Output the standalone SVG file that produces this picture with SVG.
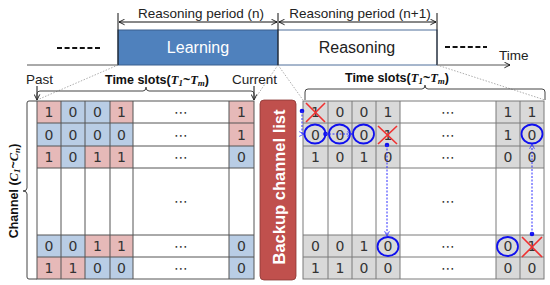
<svg xmlns="http://www.w3.org/2000/svg" width="550" height="285" viewBox="0 0 550 285">
<defs>
<marker id="ah" viewBox="0 0 10 10" refX="9" refY="5" markerWidth="7" markerHeight="7" orient="auto-start-reverse"><path d="M1,1 L9,5 L1,9" fill="none" stroke="#000" stroke-width="1.2"/></marker>
<marker id="bh" viewBox="0 0 10 10" refX="9" refY="5" markerWidth="6" markerHeight="6" orient="auto"><path d="M1,1 L9,5 L1,9" fill="none" stroke="#3030ff" stroke-width="1.3"/></marker>
</defs>
<style>
.lbl{font-family:"Liberation Sans",Arial,sans-serif;font-size:13.5px;fill:#222}
.big{font-family:"Liberation Sans",Arial,sans-serif;font-size:16px}
.dig{font-family:"DejaVu Sans",Verdana,sans-serif;font-size:14px;fill:#333;text-anchor:middle}
.bold{font-family:"Liberation Sans",Arial,sans-serif;font-size:12.5px;font-weight:bold;fill:#111}
.math{font-family:"Liberation Serif","Times New Roman",serif;font-style:italic;font-weight:bold}
.p{fill:#e6b9b8}.b{fill:#b9cde5}.g{fill:#d9d9d9}
.gl{stroke:#555;stroke-width:1;fill:none}
.gr{stroke:#7a7a7a;stroke-width:1;fill:none}
.dot{stroke:#999;stroke-width:0.8;stroke-dasharray:1.5,1.5;fill:none}
.ba{stroke:#3030ff;stroke-width:1;stroke-dasharray:2,1.5;fill:none}
.circ{stroke:#1010ee;stroke-width:1.8;fill:none}
.x{stroke:#f03030;stroke-width:1.6}
</style>

<g id="timeline">
<line x1="27" y1="65" x2="118" y2="65" stroke="#555" stroke-width="1"/>
<line x1="437" y1="65" x2="510" y2="65" stroke="#555" stroke-width="1" marker-end="url(#ah)"/>
<line x1="57" y1="48" x2="100" y2="48" stroke="#111" stroke-width="2.2" stroke-dasharray="5,2.6"/>
<line x1="445" y1="47" x2="487" y2="47" stroke="#111" stroke-width="2.2" stroke-dasharray="5,2.6"/>
<text x="499" y="60" class="lbl">Time</text>
</g>

<g id="learning">
<rect x="118" y="30" width="160" height="35" fill="#4f81bd" stroke="#3a5f8e" stroke-width="1"/>
<text x="198" y="53" class="big" fill="#fff" text-anchor="middle">Learning</text>
</g>

<g id="reasoning">
<rect x="278" y="30" width="159" height="35" fill="#fff" stroke="#4f6f9a" stroke-width="1"/>
<text x="357" y="53" class="big" fill="#222" text-anchor="middle">Reasoning</text>
</g>

<g id="periods">
<line x1="118" y1="13" x2="118" y2="65" stroke="#111" stroke-width="1"/>
<line x1="278" y1="13" x2="278" y2="65" stroke="#111" stroke-width="1"/>
<line x1="437" y1="13" x2="437" y2="65" stroke="#111" stroke-width="1"/>
<line x1="119" y1="22" x2="277" y2="22" stroke="#111" stroke-width="1" marker-start="url(#ah)" marker-end="url(#ah)"/>
<line x1="279" y1="22" x2="436" y2="22" stroke="#111" stroke-width="1" marker-start="url(#ah)" marker-end="url(#ah)"/>
<text x="201" y="18" class="lbl" text-anchor="middle">Reasoning period (n)</text>
<text x="360" y="18" class="lbl" text-anchor="middle">Reasoning period (n+1)</text>
</g>

<g id="connectors">
<line x1="118" y1="65" x2="37" y2="100" class="dot"/>
<line x1="278" y1="65" x2="254" y2="100" class="dot"/>
<line x1="278" y1="65" x2="303" y2="100" class="dot"/>
<line x1="437" y1="65" x2="545" y2="100" class="dot"/>
<line x1="37" y1="86" x2="37" y2="100" stroke="#111" stroke-width="1" marker-end="url(#ah)"/>
<line x1="254" y1="86" x2="254" y2="100" stroke="#111" stroke-width="1" marker-end="url(#ah)"/>
<path d="M37,100 V94 Q37,91 40,91 H143 Q146,91 146,87 Q146,91 149,91 H251 Q254,91 254,94 V100" fill="none" stroke="#444" stroke-width="1"/>
<path d="M305,100 V92 Q305,89 308,89 H422 Q425,89 425,85 Q425,89 428,89 H542 Q545,89 545,92 V100" fill="none" stroke="#444" stroke-width="1"/>
<path d="M37,101 H29 Q27,101 27,103 V188 Q27,191 23,191 Q27,191 27,194 V277 Q27,279 29,279 H37" fill="none" stroke="#444" stroke-width="1"/>
</g>

<g id="labels">
<text x="26" y="84" class="lbl">Past</text>
<text x="232" y="84" class="lbl">Current</text>
<text x="157" y="84" class="bold" text-anchor="middle">Time slots(<tspan class="math">T</tspan><tspan dy="2" font-size="9" class="math">1</tspan><tspan dy="-2">~</tspan><tspan class="math">T</tspan><tspan dy="2" font-size="9" class="math">m</tspan><tspan dy="-2">)</tspan></text>
<text x="397" y="82" class="bold" text-anchor="middle">Time slots(<tspan class="math">T</tspan><tspan dy="2" font-size="9" class="math">1</tspan><tspan dy="-2">~</tspan><tspan class="math">T</tspan><tspan dy="2" font-size="9" class="math">m</tspan><tspan dy="-2">)</tspan></text>
<text transform="translate(18,191) rotate(-90)" class="bold" font-size="13.5" text-anchor="middle">Channel (<tspan class="math">C</tspan><tspan dy="2" font-size="9" class="math">1</tspan><tspan dy="-2">~</tspan><tspan class="math">C</tspan><tspan dy="2" font-size="9" class="math">n</tspan><tspan dy="-2">)</tspan></text>
</g>

<g id="left-grid">
<rect x="37" y="101" width="24" height="22" class="p"/><rect x="61" y="101" width="24" height="22" class="b"/><rect x="85" y="101" width="25" height="22" class="b"/><rect x="110" y="101" width="23" height="22" class="p"/><rect x="229" y="101" width="25" height="22" class="p"/>
<rect x="37" y="123" width="24" height="23" class="b"/><rect x="61" y="123" width="24" height="23" class="b"/><rect x="85" y="123" width="25" height="23" class="b"/><rect x="110" y="123" width="23" height="23" class="b"/><rect x="229" y="123" width="25" height="23" class="p"/>
<rect x="37" y="146" width="24" height="22" class="p"/><rect x="61" y="146" width="24" height="22" class="b"/><rect x="85" y="146" width="25" height="22" class="p"/><rect x="110" y="146" width="23" height="22" class="p"/><rect x="229" y="146" width="25" height="22" class="b"/>
<rect x="37" y="235" width="24" height="22" class="b"/><rect x="61" y="235" width="24" height="22" class="b"/><rect x="85" y="235" width="25" height="22" class="p"/><rect x="110" y="235" width="23" height="22" class="p"/><rect x="229" y="235" width="25" height="22" class="b"/>
<rect x="37" y="257" width="24" height="22" class="p"/><rect x="61" y="257" width="24" height="22" class="p"/><rect x="85" y="257" width="25" height="22" class="b"/><rect x="110" y="257" width="23" height="22" class="b"/><rect x="229" y="257" width="25" height="22" class="b"/>
<rect x="37" y="101" width="217" height="178" class="gl"/>
<path d="M61,101V279M85,101V279M110,101V279M133,101V279M229,101V279M37,123H254M37,146H254M37,168H254M37,235H254M37,257H254" class="gl"/>
<text x="49" y="117" class="dig">1</text><text x="73" y="117" class="dig">0</text><text x="97.5" y="117" class="dig">0</text><text x="121.5" y="117" class="dig">1</text><text x="181" y="117" class="dig">⋯</text><text x="241.5" y="117" class="dig">1</text>
<text x="49" y="139.5" class="dig">0</text><text x="73" y="139.5" class="dig">0</text><text x="97.5" y="139.5" class="dig">0</text><text x="121.5" y="139.5" class="dig">0</text><text x="181" y="139.5" class="dig">⋯</text><text x="241.5" y="139.5" class="dig">1</text>
<text x="49" y="162" class="dig">1</text><text x="73" y="162" class="dig">0</text><text x="97.5" y="162" class="dig">1</text><text x="121.5" y="162" class="dig">1</text><text x="181" y="162" class="dig">⋯</text><text x="241.5" y="162" class="dig">0</text>
<text x="181" y="206" class="dig">⋯</text>
<text x="49" y="251" class="dig">0</text><text x="73" y="251" class="dig">0</text><text x="97.5" y="251" class="dig">1</text><text x="121.5" y="251" class="dig">1</text><text x="181" y="251" class="dig">⋯</text><text x="241.5" y="251" class="dig">0</text>
<text x="49" y="273" class="dig">1</text><text x="73" y="273" class="dig">1</text><text x="97.5" y="273" class="dig">0</text><text x="121.5" y="273" class="dig">0</text><text x="181" y="273" class="dig">⋯</text><text x="241.5" y="273" class="dig">0</text>
</g>

<g id="backup-channel-list">
<rect x="260" y="100" width="36" height="180" rx="4" fill="#c0504d" stroke="#8c3836" stroke-width="0.8"/>
<text transform="translate(285,187) rotate(-90)" font-family="Liberation Sans,Arial,sans-serif" font-size="16.5" font-weight="bold" fill="#fff" text-anchor="middle">Backup channel list</text>
</g>

<g id="right-grid">
<rect x="303" y="101" width="97" height="67" class="g"/><rect x="496" y="101" width="48" height="67" class="g"/>
<rect x="303" y="235" width="97" height="44" class="g"/><rect x="496" y="235" width="48" height="44" class="g"/>
<rect x="303" y="101" width="241" height="178" class="gr"/>
<path d="M328,101V279M352,101V279M376,101V279M400,101V279M496,101V279M520,101V279M303,123H544M303,146H544M303,168H544M303,235H544M303,257H544" class="gr"/>
<text x="315.5" y="117" class="dig">1</text><text x="340" y="117" class="dig">0</text><text x="364" y="117" class="dig">0</text><text x="388" y="117" class="dig">1</text><text x="448" y="117" class="dig">⋯</text><text x="508" y="117" class="dig">1</text><text x="532" y="117" class="dig">1</text>
<text x="315.5" y="139.5" class="dig">0</text><text x="340" y="139.5" class="dig">0</text><text x="364" y="139.5" class="dig">0</text><text x="388" y="139.5" class="dig">1</text><text x="448" y="139.5" class="dig">⋯</text><text x="508" y="139.5" class="dig">1</text><text x="532" y="139.5" class="dig">0</text>
<text x="315.5" y="162" class="dig">1</text><text x="340" y="162" class="dig">0</text><text x="364" y="162" class="dig">1</text><text x="388" y="162" class="dig">0</text><text x="448" y="162" class="dig">⋯</text><text x="508" y="162" class="dig">0</text><text x="532" y="162" class="dig">0</text>
<text x="448" y="206" class="dig">⋯</text>
<text x="315.5" y="251" class="dig">0</text><text x="340" y="251" class="dig">0</text><text x="364" y="251" class="dig">1</text><text x="388" y="251" class="dig">0</text><text x="448" y="251" class="dig">⋯</text><text x="508" y="251" class="dig">0</text><text x="532" y="251" class="dig">1</text>
<text x="315.5" y="273" class="dig">1</text><text x="340" y="273" class="dig">1</text><text x="364" y="273" class="dig">0</text><text x="388" y="273" class="dig">0</text><text x="448" y="273" class="dig">⋯</text><text x="508" y="273" class="dig">0</text><text x="532" y="273" class="dig">0</text>
</g>

<g id="annotations">
<path d="M306,103L325,122M325,103L306,122" class="x"/>
<path d="M378,126L397,144M397,126L378,144" class="x"/>
<path d="M522,237L542,257M542,237L522,257" class="x"/>
<ellipse cx="315" cy="134" rx="10.5" ry="9.5" class="circ"/>
<ellipse cx="339.5" cy="134" rx="10.5" ry="9.5" class="circ"/>
<ellipse cx="363.5" cy="134" rx="10.5" ry="9.5" class="circ"/>
<ellipse cx="532" cy="134" rx="10.5" ry="9.5" class="circ"/>
<ellipse cx="388" cy="246.5" rx="10.5" ry="9.5" class="circ"/>
<ellipse cx="507.5" cy="246.5" rx="10.5" ry="9.5" class="circ"/>
<circle cx="302" cy="111" r="2.3" fill="#1010ee"/>
<path d="M302,111 V134 H304" class="ba" marker-end="url(#bh)"/>
<circle cx="325.5" cy="134" r="2.3" fill="#1010ee"/>
<path d="M325.5,134 H352" class="ba" marker-end="url(#bh)"/>
<circle cx="387" cy="145" r="2.3" fill="#1010ee"/>
<path d="M387,145 V236" class="ba" marker-end="url(#bh)"/>
<circle cx="532" cy="234" r="2.3" fill="#1010ee"/>
<path d="M532,234 V144" class="ba" marker-end="url(#bh)"/>
</g>
</svg>
